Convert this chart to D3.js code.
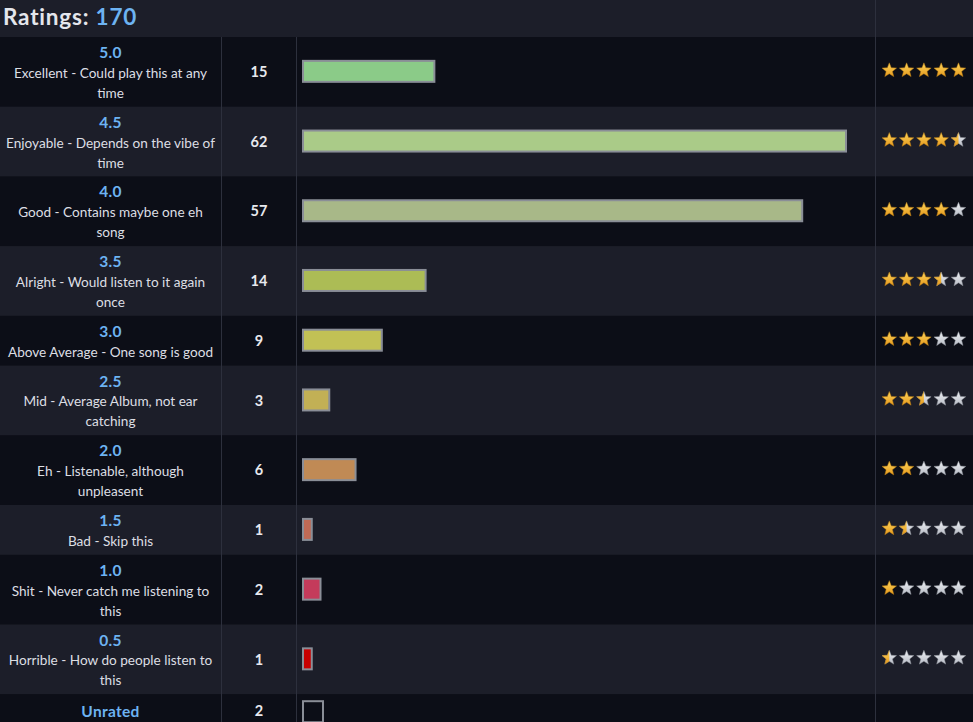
<!DOCTYPE html>
<html>
<head>
<meta charset="utf-8">
<script src="https://cdn.jsdelivr.net/npm/d3@7"></script>
<style>
  html, body { margin: 0; padding: 0; background: #0c0e17; overflow: hidden; }
  svg { display: block; font-family: Lato, "Noto Sans", sans-serif; }
</style>
</head>
<body>
<svg id="chart" width="973" height="722"></svg>
<script>
// ---- data ----
const totalRatings = 170;
const ratingLabels = ["5.0", "4.5", "4.0", "3.5", "3.0", "2.5", "2.0", "1.5", "1.0", "0.5", "Unrated"];
const descriptions = [
  ["Excellent - Could play this at any", "time"],
  ["Enjoyable - Depends on the vibe of", "time"],
  ["Good - Contains maybe one eh", "song"],
  ["Alright - Would listen to it again", "once"],
  ["Above Average - One song is good"],
  ["Mid - Average Album, not ear", "catching"],
  ["Eh - Listenable, although", "unpleasent"],
  ["Bad - Skip this"],
  ["Shit - Never catch me listening to", "this"],
  ["Horrible - How do people listen to", "this"],
  []
];
const counts = [15, 62, 57, 14, 9, 3, 6, 1, 2, 1, 2];
const starValues = [5, 4.5, 4, 3.5, 3, 2.5, 2, 1.5, 1, 0.5, null];
const barColors = ["#8bcb88", "#aacb88", "#a8b888", "#acbc55", "#c2c155", "#c2b055", "#c08a55", "#c06a55", "#c43b5b", "#c80000", "none"];

// ---- layout ----
const W = 973, H = 722;
const headerH = 37;
const col1 = 221, col2 = 296, col3 = 875;
const svg = d3.select("#chart");

const rows = ratingLabels.map((lab, i) => ({
  label: lab, desc: descriptions[i], count: counts[i], stars: starValues[i], color: barColors[i], i
}));
let yAcc = headerH;
rows.forEach(r => {
  const n = r.desc.length;
  r.h = n === 0 ? 36 : (n === 1 ? 49.8 : 69.7);
  r.y = yAcc;
  yAcc += r.h;
});

const x = d3.scaleLinear().domain([0, d3.max(counts)]).range([0, 543]);

// background
svg.append("rect").attr("width", W).attr("height", H).attr("fill", "#0c0e17");
svg.append("rect").attr("width", W).attr("height", headerH).attr("fill", "#1c1e29");

// defs: star gradients
const defs = svg.append("defs");
const gGold = defs.append("linearGradient").attr("id", "gold").attr("x1", 0).attr("y1", 0).attr("x2", 0).attr("y2", 1);
gGold.append("stop").attr("offset", "0%").attr("stop-color", "#fdd55c");
gGold.append("stop").attr("offset", "100%").attr("stop-color", "#e69a1e");
const gGrey = defs.append("linearGradient").attr("id", "grey").attr("x1", 0).attr("y1", 0).attr("x2", 0).attr("y2", 1);
gGrey.append("stop").attr("offset", "0%").attr("stop-color", "#eef0f4");
gGrey.append("stop").attr("offset", "100%").attr("stop-color", "#b9bdc6");
defs.append("clipPath").attr("id", "leftHalf").append("rect")
  .attr("x", -10).attr("y", -10).attr("width", 10).attr("height", 20);

// rows
const rowG = svg.selectAll("g.row").data(rows).join("g")
  .attr("class", "row")
  .attr("transform", d => `translate(0,${d.y})`);

rowG.append("rect")
  .attr("width", W).attr("height", d => d.h + 0.5)
  .attr("fill", d => d.i % 2 === 0 ? "#0c0e17" : "#1c1e29");

// rating value
rowG.append("text")
  .attr("x", col1 / 2)
  .attr("y", d => d.desc.length === 0 ? 17 : 15.5)
  .attr("dy", "0.36em")
  .attr("text-anchor", "middle")
  .attr("fill", "#6db3f2")
  .attr("font-weight", 700)
  .attr("font-size", 15.5)
  .attr("letter-spacing", 0.3)
  .text(d => d.label);

// description lines
rowG.each(function(d) {
  d3.select(this).selectAll("text.desc").data(d.desc).join("text")
    .attr("class", "desc")
    .attr("x", col1 / 2)
    .attr("y", (t, j) => 36 + j * 20)
    .attr("dy", "0.36em")
    .attr("text-anchor", "middle")
    .attr("fill", "#dcdee4")
    .attr("font-size", 13.6)
    .text(t => t);
});

// count
rowG.append("text")
  .attr("x", (col1 + col2) / 2 + 0.5)
  .attr("y", d => d.desc.length === 0 ? 17 : d.h / 2)
  .attr("dy", "0.36em")
  .attr("text-anchor", "middle")
  .attr("fill", "#e8e9ee")
  .attr("font-weight", 700)
  .attr("font-size", 14.5)
  .text(d => d.count);

// bars
rowG.append("rect")
  .attr("x", col2 + 7)
  .attr("y", d => d.desc.length === 0 ? 7 : d.h / 2 - 11)
  .attr("width", d => d.color === "none" ? 20 : x(d.count))
  .attr("height", 21)
  .attr("fill", d => d.color === "none" ? "#0c0e17" : d.color)
  .attr("stroke", "#8a8e97")
  .attr("stroke-width", 2);

// stars
const starPath = (() => {
  const pts = [];
  const R = 7.6, r = 3.3;
  for (let k = 0; k < 10; k++) {
    const a = -Math.PI / 2 + k * Math.PI / 5;
    const rad = k % 2 === 0 ? R : r;
    pts.push([rad * Math.cos(a), rad * Math.sin(a) + 0.6]);
  }
  return d3.line()(pts) + "Z";
})();

rowG.filter(d => d.stars !== null).each(function(d) {
  const g = d3.select(this);
  for (let s = 0; s < 5; s++) {
    const sg = g.append("g").attr("transform", `translate(${889.3 + s * 17.3},${d.h / 2 - 2})`);
    const fill = d.stars - s;
    if (fill >= 1) {
      sg.append("path").attr("d", starPath).attr("fill", "url(#gold)").attr("stroke", "#b77a12").attr("stroke-width", 0.5);
    } else if (fill >= 0.5) {
      sg.append("path").attr("d", starPath).attr("fill", "url(#grey)").attr("stroke", "#8e929a").attr("stroke-width", 0.5);
      sg.append("path").attr("d", starPath).attr("fill", "url(#gold)").attr("stroke", "#b77a12").attr("stroke-width", 0.5)
        .attr("clip-path", "url(#leftHalf)");
    } else {
      sg.append("path").attr("d", starPath).attr("fill", "url(#grey)").attr("stroke", "#8e929a").attr("stroke-width", 0.5);
    }
  }
});

// column separators
svg.append("line").attr("x1", col1 + 0.5).attr("x2", col1 + 0.5).attr("y1", headerH).attr("y2", H)
  .attr("stroke", "#2d303d").attr("stroke-width", 1);
svg.append("line").attr("x1", col2 + 0.5).attr("x2", col2 + 0.5).attr("y1", headerH).attr("y2", H)
  .attr("stroke", "#2d303d").attr("stroke-width", 1);
svg.append("line").attr("x1", col3 + 0.5).attr("x2", col3 + 0.5).attr("y1", 0).attr("y2", H)
  .attr("stroke", "#2d303d").attr("stroke-width", 1);

// header
const title = svg.append("text")
  .attr("x", 3).attr("y", 25)
  .attr("font-size", 22.5).attr("font-weight", 700)
  .attr("letter-spacing", 0.8);
title.append("tspan").attr("fill", "#e4e6ec").text("Ratings: ");
title.append("tspan").attr("fill", "#6db3f2").text(totalRatings);
</script>
</body>
</html>
